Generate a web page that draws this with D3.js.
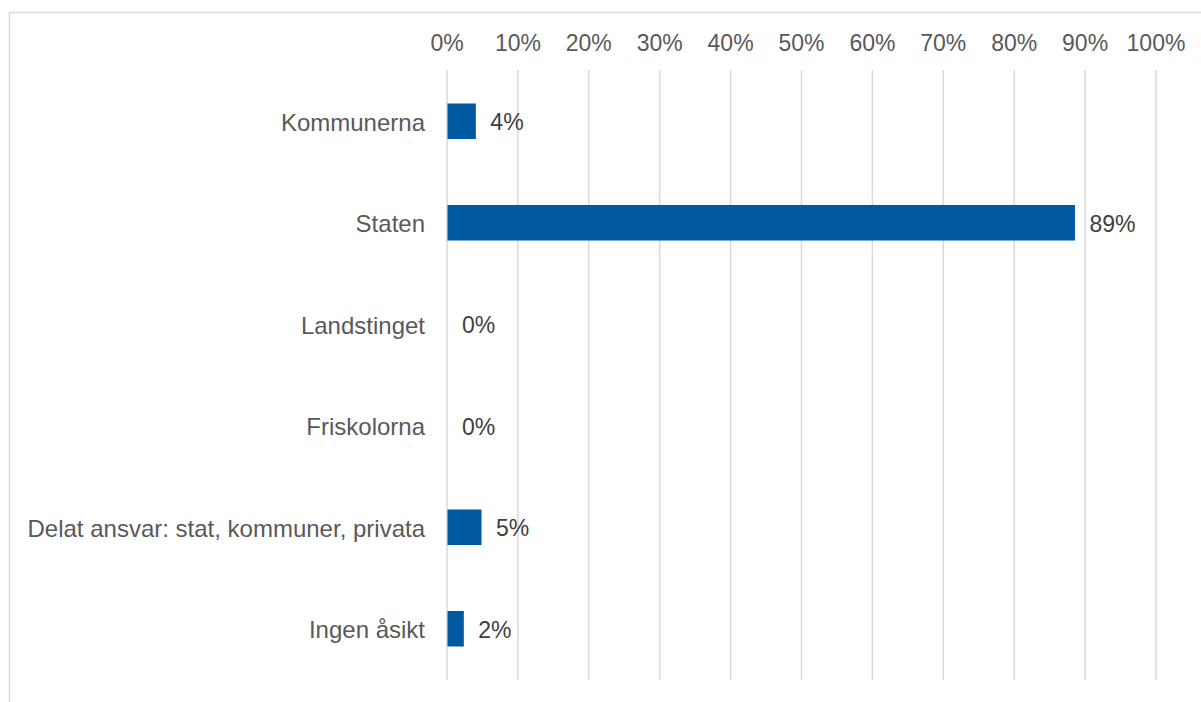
<!DOCTYPE html>
<meta charset="utf-8">
<script src="https://d3js.org/d3.v7.min.js"></script>
<style>
  body { margin: 0; background: #fff; }
  text { font-family: "Liberation Sans", Arial, sans-serif; }
</style>
<div id="chart"></div>
<script>
    // data
    const categories = ["Kommunerna", "Staten", "Landstinget", "Friskolorna",
        "Delat ansvar: stat, kommuner, privata", "Ingen åsikt"];
    const values = [4.0, 88.5, 0, 0, 4.8, 2.3];
    const ticks = [0, 10, 20, 30, 40, 50, 60, 70, 80, 90, 100];

    const W = 1201, H = 702;
    const margin = {top: 70, right: 45, bottom: 22, left: 447};
    const width = 1156 - margin.left,
        height = 680 - margin.top;

    const svg = d3.select("#chart")
        .append("svg")
        .attr("width", W)
        .attr("height", H);

    // outer frame (only top and left edges show)
    svg.append("rect")
        .attr("x", 9.5).attr("y", 12.5)
        .attr("width", W).attr("height", H)
        .attr("fill", "none")
        .attr("stroke", "#d9d9d9")
        .attr("stroke-width", 1.5);

    const g = svg.append("g")
        .attr("transform", `translate(${margin.left},${margin.top})`);

    const x = d3.scaleLinear().domain([0, 100]).range([0, width]);
    const y = d3.scaleBand().domain(categories).range([0, height]).paddingInner(0.65).paddingOuter(0.33);

    // gridlines
    g.selectAll("line.grid")
        .data(ticks)
        .join("line")
        .attr("class", "grid")
        .attr("x1", d => x(d)).attr("x2", d => x(d))
        .attr("y1", 0).attr("y2", height)
        .attr("stroke", "#d9d9d9")
        .attr("stroke-width", 1.5);

    // top axis labels
    g.selectAll("text.tick")
        .data(ticks)
        .join("text")
        .attr("class", "tick")
        .attr("x", d => x(d))
        .attr("y", -25)
        .attr("text-anchor", "middle")
        .attr("dominant-baseline", "middle")
        .attr("font-size", 23)
        .attr("fill", "#595959")
        .text(d => d + "%");

    // category labels
    g.selectAll("text.cat")
        .data(categories)
        .join("text")
        .attr("class", "cat")
        .attr("x", -22)
        .attr("y", d => y(d) + y.bandwidth() / 2 + 3)
        .attr("text-anchor", "end")
        .attr("dominant-baseline", "middle")
        .attr("font-size", 24)
        .attr("fill", "#595959")
        .text(d => d);

    // bars
    g.selectAll("rect.bar")
        .data(values)
        .join("rect")
        .attr("class", "bar")
        .attr("x", x(0) + 0.5)
        .attr("y", (d, i) => y(categories[i]))
        .attr("width", d => Math.max(0, x(d) - x(0)))
        .attr("height", y.bandwidth())
        .attr("fill", "#00599f");

    // value labels
    g.selectAll("text.val")
        .data(values)
        .join("text")
        .attr("class", "val")
        .attr("x", d => x(d) + 15)
        .attr("y", (d, i) => y(categories[i]) + y.bandwidth() / 2 + 3)
        .attr("dominant-baseline", "middle")
        .attr("font-size", 23)
        .attr("fill", "#404040")
        .text(d => Math.round(d) + "%");
</script>
